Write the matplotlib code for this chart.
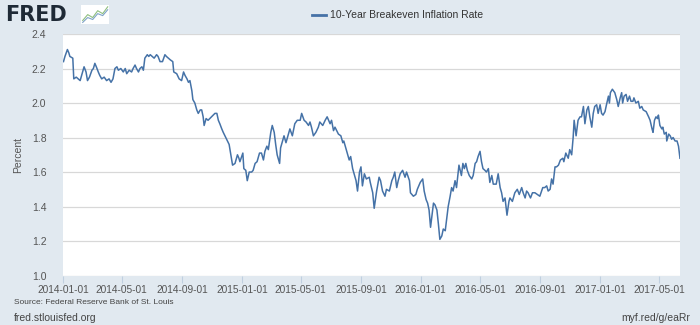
import pandas as pd
import matplotlib
matplotlib.use("Agg")
import matplotlib.pyplot as plt
import matplotlib.dates as mdates

# 10-Year Breakeven Inflation Rate (days since 2014-01-01, percent)
days = [
    1, 4, 9, 12, 14, 20, 22, 27, 31, 35, 39, 43, 47, 50, 54, 59, 62, 65, 68, 72,
    75, 79, 84, 89, 94, 98, 102, 106, 110, 113, 118, 123, 127, 130, 135, 140, 143, 147, 150, 154,
    157, 161, 164, 167, 172, 175, 178, 182, 186, 191, 194, 198, 203, 208, 211, 215, 219, 224, 226, 232,
    237, 242, 246, 249, 253, 256, 259, 263, 265, 269, 273, 276, 280, 283, 286, 288, 292, 296, 303, 310,
    314, 317, 320, 324, 327, 334, 339, 342, 346, 351, 356, 359, 361, 367, 369, 373, 376, 380, 385, 388,
    392, 396, 401, 405, 409, 412, 416, 419, 424, 427, 431, 434, 437, 442, 444, 448, 451, 455, 458, 463,
    468, 473, 478, 484, 487, 492, 496, 501, 504, 507, 511, 516, 521, 524, 530, 535, 539, 545, 548, 552,
    555, 562, 567, 571, 573, 577, 580, 584, 587, 591, 594, 598, 601, 605, 608, 611, 615, 619, 625, 627,
    632, 635, 640, 645, 648, 652, 657, 660, 666, 671, 674, 677, 681, 684, 688, 693, 698, 701, 707, 709,
    715, 720, 723, 729, 734, 737, 741, 744, 747, 750, 753, 756, 759, 763, 766, 769, 773, 776, 780, 783,
    786, 790, 793, 796, 800, 803, 806, 808, 813, 816, 819, 822, 825, 829, 834, 837, 841, 844, 847, 851,
    854, 857, 861, 864, 868, 871, 875, 878, 884, 888, 892, 895, 898, 902, 906, 910, 912, 917, 922, 927,
    931, 936, 939, 943, 946, 949, 954, 958, 963, 968, 973, 979, 983, 987, 990, 994, 997, 1000, 1004, 1007,
    1011, 1015, 1020, 1022, 1026, 1031, 1034, 1038, 1041, 1043, 1047, 1051, 1055, 1058, 1062, 1065, 1069, 1072, 1075, 1079,
    1082, 1085, 1089, 1092, 1096, 1099, 1102, 1106, 1109, 1113, 1115, 1117, 1121, 1126, 1130, 1133, 1137, 1140, 1142, 1145,
    1149, 1152, 1156, 1159, 1163, 1165, 1169, 1174, 1177, 1181, 1184, 1190, 1195, 1198, 1202, 1204, 1207, 1210, 1213, 1215,
    1218, 1222, 1224, 1227, 1231, 1232, 1236, 1239, 1242, 1245, 1249, 1253, 1256, 1259,
]
rate = [
    2.24, 2.27, 2.31, 2.29, 2.27, 2.26, 2.14, 2.15, 2.14, 2.13, 2.17, 2.21, 2.18, 2.13, 2.15, 2.19, 2.20, 2.23, 2.21, 2.18,
    2.16, 2.14, 2.15, 2.13, 2.14, 2.12, 2.14, 2.20, 2.21, 2.19, 2.20, 2.18, 2.20, 2.17, 2.19, 2.18, 2.20, 2.22, 2.20, 2.18,
    2.20, 2.21, 2.19, 2.26, 2.28, 2.27, 2.28, 2.27, 2.26, 2.28, 2.27, 2.24, 2.24, 2.28, 2.27, 2.26, 2.25, 2.24, 2.18, 2.17,
    2.14, 2.13, 2.18, 2.16, 2.14, 2.12, 2.13, 2.07, 2.02, 2.00, 1.96, 1.94, 1.96, 1.96, 1.92, 1.87, 1.91, 1.90, 1.92, 1.94,
    1.94, 1.90, 1.88, 1.85, 1.83, 1.79, 1.76, 1.71, 1.64, 1.65, 1.70, 1.68, 1.66, 1.71, 1.62, 1.61, 1.55, 1.60, 1.60, 1.61,
    1.65, 1.66, 1.71, 1.71, 1.67, 1.72, 1.75, 1.73, 1.83, 1.87, 1.83, 1.76, 1.70, 1.65, 1.74, 1.78, 1.81, 1.77, 1.80, 1.85,
    1.81, 1.88, 1.90, 1.90, 1.94, 1.90, 1.89, 1.87, 1.89, 1.86, 1.81, 1.83, 1.86, 1.89, 1.87, 1.90, 1.92, 1.88, 1.90, 1.84,
    1.86, 1.82, 1.81, 1.77, 1.78, 1.74, 1.71, 1.67, 1.69, 1.62, 1.59, 1.55, 1.49, 1.60, 1.63, 1.52, 1.59, 1.56, 1.57, 1.54,
    1.48, 1.39, 1.49, 1.57, 1.55, 1.49, 1.46, 1.50, 1.49, 1.55, 1.57, 1.60, 1.51, 1.55, 1.59, 1.61, 1.57, 1.60, 1.55, 1.48,
    1.46, 1.47, 1.50, 1.54, 1.56, 1.49, 1.44, 1.42, 1.38, 1.28, 1.35, 1.42, 1.41, 1.38, 1.30, 1.21, 1.23, 1.27, 1.26, 1.33,
    1.40, 1.46, 1.51, 1.49, 1.55, 1.51, 1.59, 1.64, 1.58, 1.65, 1.62, 1.65, 1.61, 1.58, 1.56, 1.58, 1.65, 1.66, 1.69, 1.72,
    1.66, 1.62, 1.61, 1.60, 1.62, 1.54, 1.58, 1.53, 1.53, 1.59, 1.51, 1.48, 1.43, 1.45, 1.35, 1.43, 1.45, 1.43, 1.48, 1.50,
    1.47, 1.51, 1.48, 1.45, 1.49, 1.48, 1.45, 1.48, 1.48, 1.47, 1.46, 1.51, 1.51, 1.52, 1.49, 1.50, 1.56, 1.53, 1.63, 1.63,
    1.64, 1.67, 1.68, 1.66, 1.71, 1.68, 1.73, 1.70, 1.80, 1.90, 1.81, 1.90, 1.92, 1.92, 1.98, 1.88, 1.96, 1.98, 1.92, 1.86,
    1.94, 1.98, 1.99, 1.94, 1.99, 1.94, 1.93, 1.95, 1.99, 2.04, 2.00, 2.06, 2.08, 2.06, 2.02, 1.98, 2.03, 2.06, 2.00, 2.04,
    2.05, 2.01, 2.04, 2.01, 2.01, 2.03, 2.00, 2.01, 1.97, 1.98, 1.96, 1.95, 1.92, 1.90, 1.85, 1.83, 1.90, 1.92, 1.91, 1.93,
    1.87, 1.85, 1.86, 1.82, 1.83, 1.78, 1.82, 1.81, 1.79, 1.80, 1.78, 1.78, 1.75, 1.68,
]
x_ticks = ["2014-01-01", "2014-05-01", "2014-09-01", "2015-01-01", "2015-05-01", "2015-09-01",
           "2016-01-01", "2016-05-01", "2016-09-01", "2017-01-01", "2017-05-01"]
y_ticks = [1.0, 1.2, 1.4, 1.6, 1.8, 2.0, 2.2, 2.4]

plt.rcParams["font.family"] = ["Liberation Sans", "DejaVu Sans"]

bg = "#e1e9f0"
line_color = "#4572a7"
text_color = "#555555"

dates = pd.Timestamp("2014-01-01") + pd.to_timedelta(days, unit="D")

fig = plt.figure(figsize=(7, 3.25), dpi=100, facecolor=bg)
ax = fig.add_axes([0.09, 0.152, 0.8814, 0.7434])
ax.set_facecolor("white")
ax.plot(dates, rate, color=line_color, linewidth=1.1)

ax.set_ylim(1.0, 2.4)
ax.set_yticks(y_ticks)
ax.set_yticklabels([f"{v:.1f}" for v in y_ticks])
ax.set_xlim(pd.Timestamp("2014-01-01"), dates[-1])
ax.set_xticks(pd.to_datetime(x_ticks))
ax.xaxis.set_major_formatter(mdates.DateFormatter("%Y-%m-%d"))

ax.grid(axis="y", color="#d8d8d8", linewidth=0.9)
ax.set_axisbelow(True)
for side in ["top", "right", "left", "bottom"]:
    ax.spines[side].set_visible(False)
ax.tick_params(axis="y", length=0, pad=12, labelsize=7.5, labelcolor=text_color)
ax.tick_params(axis="x", length=5, color="#c0d0e0", pad=2, labelsize=7.3, labelcolor=text_color)
ax.set_ylabel("Percent", fontsize=7.5, color=text_color, labelpad=6)

# header
fig.text(0.008, 0.955, "FRED", fontsize=15, fontweight="bold", color="#1f2a36",
         family="DejaVu Sans", va="center", ha="left")
icon = fig.add_axes([0.116, 0.925, 0.04, 0.06])
icon.set_facecolor("#ffffff")
icon.plot([0, 1, 2, 3, 4, 5], [0.2, 0.5, 0.35, 0.7, 0.55, 0.9], color="#8fbf7f", linewidth=0.8)
icon.plot([0, 1, 2, 3, 4, 5], [0.1, 0.35, 0.25, 0.55, 0.45, 0.75], color="#7fa3c8", linewidth=0.8)
icon.set_xlim(-0.3, 5.3)
icon.set_ylim(0, 1)
icon.set_xticks([])
icon.set_yticks([])
for s in icon.spines.values():
    s.set_visible(False)

fig.lines.append(plt.Line2D([0.446, 0.466], [0.953, 0.953], transform=fig.transFigure,
                            color=line_color, linewidth=2))
fig.text(0.472, 0.953, "10-Year Breakeven Inflation Rate", fontsize=7.5, color="#333333",
         va="center", ha="left")

# footer
fig.text(0.02, 0.068, "Source: Federal Reserve Bank of St. Louis", fontsize=6,
         color="#444444", va="center")
fig.text(0.02, 0.022, "fred.stlouisfed.org", fontsize=7.5, color="#444444", va="center")
fig.text(0.986, 0.022, "myf.red/g/eaRr", fontsize=7.5, color="#444444", va="center", ha="right")

fig.savefig("out.png", dpi=100, facecolor=bg)
